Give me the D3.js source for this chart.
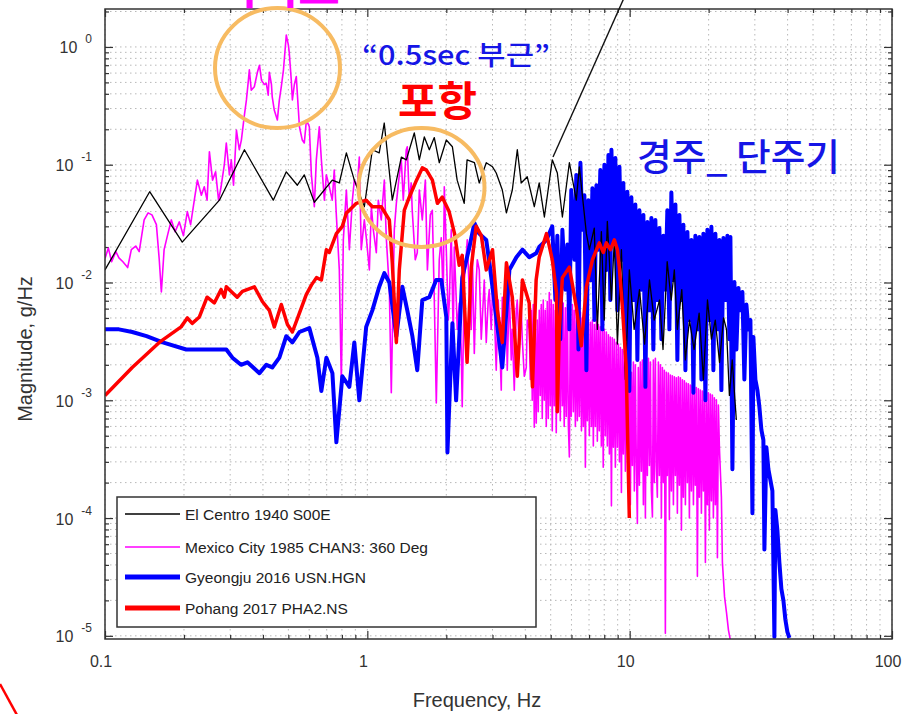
<!DOCTYPE html>
<html>
<head>
<meta charset="utf-8">
<script src="https://cdn.jsdelivr.net/npm/d3@7"></script>
<style>
  body { margin: 0; background: #fff; }
  svg { display: block; }
  text { font-family: "Liberation Sans", Arial, sans-serif; }
  .kr { font-family: "Noto Sans CJK KR", "Noto Sans", sans-serif; }
</style>
</head>
<body>
<div id="chart"></div>
<script>
// [frequency (Hz), magnitude (g/Hz)]
let elCentro = [
  [0.1,0.0128],[0.148,0.059],[0.197,0.022],[0.273,0.05],[0.34,0.134],[0.438,0.05],[0.491,0.087],[0.541,0.067],
  [0.575,0.082],[0.628,0.048],[0.735,0.074],[0.782,0.07],[0.832,0.126],[0.892,0.074],[0.974,0.044],[1.045,0.134],
  [1.11,0.126],[1.16,0.226],[1.245,0.05],[1.348,0.116],[1.408,0.11],[1.51,0.186],[1.578,0.11],[1.649,0.172],
  [1.723,0.134],[1.8,0.17],[1.88,0.104],[2.0,0.162],[2.11,0.142],[2.2,0.074],[2.34,0.047],[2.4,0.11],
  [2.56,0.104],[2.67,0.07],[2.84,0.104],[3.0,0.096],[3.1,0.085],[3.27,0.061],[3.39,0.039],[3.57,0.061],
  [3.73,0.134],[3.86,0.07],[4.07,0.079],[4.33,0.044],[4.52,0.07],[4.73,0.036],[5.07,0.11],[5.3,0.085],
  [5.54,0.036],[5.89,0.104],[6.26,0.05],[6.43,0.096],[6.84,0.026],[7.02,0.019],[7.33,0.029],[7.53,0.004],
  [7.8,0.027],[8.0,0.0048],[8.22,0.033],[8.52,0.0071],[8.74,0.023],[8.98,0.003],[9.3,0.019],[9.63,0.0015],
  [9.97,0.0128],[10.4,0.004],[10.9,0.0087],[11.4,0.003],[11.9,0.0105],[12.4,0.0048],[13.0,0.0071],[13.4,0.0027],
  [13.9,0.015],[14.4,0.0071],[14.8,0.0128],[15.2,0.004],[15.8,0.0087],[16.3,0.0022],[16.9,0.0048],[17.6,0.0027],
  [18.4,0.0055],[19.1,0.0015],[19.8,0.0071],[20.5,0.0033],[21.2,0.0048],[22.0,0.0021],[22.8,0.005],[23.4,0.004],
  [24.0,0.0011],[24.6,0.0022],[25.5,0.00068]
]

let mexicoCity = [
  [0.1,0.016],[0.103,0.0196],[0.106,0.015],[0.11,0.0183],[0.113,0.0162],[0.117,0.015],[0.122,0.0134],[0.126,0.019],
  [0.131,0.0204],[0.135,0.0183],[0.141,0.034],[0.146,0.039],[0.151,0.0375],[0.157,0.031],[0.161,0.0156],[0.164,0.0083],
  [0.168,0.019],[0.173,0.025],[0.179,0.034],[0.185,0.027],[0.192,0.0327],[0.199,0.025],[0.206,0.04],[0.212,0.031],
  [0.219,0.05],[0.225,0.074],[0.233,0.055],[0.239,0.065],[0.245,0.05],[0.25,0.129],[0.257,0.074],[0.264,0.087],
  [0.271,0.05],[0.277,0.065],[0.285,0.1],[0.29,0.153],[0.298,0.082],[0.303,0.11],[0.309,0.067],[0.317,0.197],
  [0.325,0.134],[0.331,0.162],[0.34,0.265],[0.346,0.355],[0.352,0.52],[0.355,0.64],[0.361,0.43],[0.371,0.46],
  [0.381,0.61],[0.388,0.7],[0.395,0.52],[0.405,0.48],[0.412,0.49],[0.419,0.39],[0.423,0.61],[0.431,0.48],
  [0.434,0.377],[0.442,0.29],[0.454,0.24],[0.462,0.355],[0.47,0.46],[0.479,0.64],[0.491,1.26],[0.5,1.04],
  [0.504,0.89],[0.513,0.52],[0.518,0.355],[0.527,0.48],[0.536,0.56],[0.546,0.29],[0.551,0.21],[0.565,0.162],
  [0.575,0.153],[0.586,0.24],[0.601,0.21],[0.612,0.082],[0.628,0.044],[0.639,0.11],[0.656,0.21],[0.668,0.11],
  [0.686,0.05],[0.698,0.082],[0.716,0.065],[0.735,0.05],[0.748,0.09],[0.761,0.039],[0.782,0.0128],[0.796,0.0014],
  [0.81,0.023],[0.832,0.061],[0.854,0.019],[0.877,0.05],[0.892,0.074],[0.916,0.065],[0.932,0.116],[0.948,0.019],
  [0.974,0.034],[0.991,0.024],[1.018,0.0128],[1.036,0.044],[1.054,0.028],[1.082,0.0179],[1.101,0.05],[1.13,0.034],
  [1.161,0.074],[1.181,0.024],[1.213,0.0087],[1.234,0.00116],[1.267,0.028],[1.29,0.047],[1.324,0.082],[1.347,0.11],
  [1.371,0.05],[1.383,0.07],[1.407,0.134],[1.42,0.142],[1.445,0.05],[1.47,0.07],[1.483,0.041],[1.523,0.0156],
  [1.55,0.0179],[1.578,0.061],[1.62,0.034],[1.664,0.074],[1.694,0.0128],[1.738,0.0375],[1.769,0.041],[1.8,0.0071],
  [1.832,0.00095],[1.88,0.0156],[1.913,0.024],[1.947,0.0071],[1.965,0.065],[2.0,0.019],[2.035,0.0048],[2.053,0.0067],
  [2.089,0.028],[2.126,0.0033],[2.145,0.02],[2.183,0.0071],[2.202,0.004],[2.241,0.0067],[2.28,0.0027],[2.3,0.00088],
  [2.342,0.0105],[2.362,0.0128],[2.404,0.023],[2.447,0.0082],[2.49,0.004],[2.512,0.019],[2.557,0.0025],[2.602,0.0105],
  [2.625,0.0156],[2.671,0.0128],[2.718,0.0033],[2.742,0.0048],[2.791,0.0105],[2.84,0.0031],[2.89,0.0071],[2.916,0.0087],
  [2.967,0.004],[3.019,0.0128],[3.073,0.0033],[3.1,0.0018],[3.155,0.0071],[3.24,0.00122],[3.269,0.0075],[3.327,0.0033],
  [3.386,0.0058],[3.415,0.0018],[3.476,0.0087],[3.537,0.0022],[3.568,0.004],[3.632,0.00122],[3.696,0.0058],[3.728,0.0071],
  [3.795,0.0027],[3.862,0.0058],[3.896,0.0033],[3.965,0.0016],[4.035,0.0019],[4.071,0.0048],
  [4.143,0.004],[4.18,0.0015],[4.216,0.0058],[4.253,0.001],[4.29,0.0065],[4.329,0.00059],[4.367,0.004],[4.405,0.00064],
  [4.444,0.0048],[4.483,0.0008],[4.523,0.0058],[4.563,0.0011],[4.603,0.0065],[4.643,0.0007],[4.684,0.0071],[4.726,0.001],
  [4.767,0.0058],[4.809,0.0006],[4.852,0.0069],[4.895,0.0007],[4.938,0.0082],[4.981,0.0009],[5.025,0.0071],[5.07,0.00055],
  [5.115,0.0065],[5.16,0.0009],[5.21,0.0058],[5.25,0.00053],[5.3,0.0069],[5.345,0.0008],[5.39,0.0071],[5.44,0.00067],
  [5.49,0.0065],[5.54,0.0009],[5.58,0.0067],[5.63,0.0006],[5.69,0.0061],[5.73,0.00073],[5.79,0.0065],[5.84,0.0006],
  [5.89,0.00033],[5.94,0.0058],[5.99,0.00073],[6.05,0.0065],[6.1,0.0008],[6.15,0.0058],[6.21,0.0006],[6.26,0.0056],
  [6.32,0.00067],[6.38,0.0053],[6.43,0.00073],[6.49,0.0056],[6.55,0.00055],[6.6,0.005],[6.66,0.0006],[6.72,0.0048],
  [6.78,0.00027],[6.84,0.005],[6.9,0.00067],[6.96,0.0048],[7.02,0.0005],[7.09,0.0046],[7.15,0.0006],[7.21,0.0048],
  [7.27,0.00041],[7.34,0.0044],[7.4,0.0006],[7.47,0.0048],[7.53,0.00045],[7.6,0.0044],[7.66,0.00055],[7.73,0.0042],
  [7.8,0.00041],[7.87,0.004],[7.93,0.00027],[8.0,0.004],[8.08,0.0005],[8.15,0.0038],[8.22,0.00041],[8.3,0.0036],
  [8.37,0.00035],[8.44,0.00345],[8.52,0.000127],[8.59,0.0034],[8.67,0.0004],[8.74,0.0033],[8.82,0.00027],[8.9,0.0031],
  [8.98,0.0004],[9.06,0.003],[9.14,0.0003],[9.22,0.0028],[9.3,0.000165],[9.38,0.0027],[9.46,0.00035],[9.54,0.0026],
  [9.63,0.00025],[9.71,0.0024],
  [9.8,0.0022],[9.88,0.00023],[9.97,0.002],[10.06,0.00013],[10.15,0.00173],[10.24,0.00028],[10.33,0.00211],[10.42,0.00017],
  [10.51,0.002],[10.6,0.0003],[10.7,0.00009],[10.79,0.0019],[10.89,0.00019],[10.98,0.00211],[11.08,0.00025],[11.18,0.0022],
  [11.28,0.00013],[11.38,0.00227],[11.48,0.0001],[11.58,0.0023],[11.68,0.00023],[11.79,0.00227],[11.89,0.00028],[12.0,0.00211],
  [12.1,0.00017],[12.21,0.000102],[12.31,0.0022],[12.42,0.0002],[12.53,0.00227],[12.64,0.00028],[12.75,0.00015],[12.87,0.00211],
  [12.98,0.00023],[13.1,0.002],[13.21,0.0001],[13.33,0.0019],[13.44,0.0002],[13.56,0.0018],[13.68,0.0000105],[13.8,0.00173],
  [13.92,0.00023],[14.05,0.0017],[14.17,0.000097],[14.3,0.00164],[14.42,0.00017],[14.55,0.00161],[14.68,0.00013],[14.81,0.00158],
  [14.94,0.00023],[15.07,0.00155],[15.2,0.00011],[15.34,0.00158],[15.47,0.00019],[15.61,0.00155],[15.75,0.000079],[15.89,0.00149],
  [16.02,0.00015],[16.17,0.00146],[16.31,0.00013],[16.45,0.0014],[16.6,0.0002],[16.74,0.00138],[16.89,0.0001],[17.04,0.00135],
  [17.19,0.00017],[17.34,0.00133],[17.5,0.00013],[17.65,0.0013],[17.8,0.00019],[17.96,0.00128],[18.12,0.000032],[18.28,0.00125],
  [18.44,0.00015],[18.6,0.00122],[18.77,0.00011],[18.93,0.0012],[19.1,0.00017],[19.27,0.00118],[19.44,0.000042],[19.61,0.00118],
  [19.78,0.00013],[19.96,0.00116],[20.13,0.000079],[20.31,0.00113],[20.49,0.00014],[20.67,0.00111],[20.85,0.0001],[21.03,0.00105],
  [21.22,0.00013],[21.41,0.00101],[21.6,0.000046],[21.79,0.00091],[21.98,0.0004],[22.37,0.00015],[22.57,0.000042],[23.0,0.0000214],
  [23.4,0.0000157],[23.8,0.0000112],[24.2,0.0000092]
]

let gyeongju = [
  [0.1,0.004],[0.113,0.004],[0.127,0.0038],[0.144,0.0035],[0.166,0.0031],[0.204,0.0027],[0.229,0.0027],[0.29,0.0027],
  [0.306,0.0023],[0.33,0.002],[0.349,0.0021],[0.388,0.0017],[0.412,0.002],[0.434,0.0019],[0.462,0.0023],[0.491,0.0035],
  [0.518,0.0031],[0.551,0.0038],[0.601,0.0041],[0.645,0.0023],[0.668,0.0012],[0.698,0.0023],[0.736,0.0017],[0.762,0.00044],
  [0.803,0.0016],[0.854,0.0013],[0.892,0.0031],[0.932,0.001],[0.99,0.0042],[1.045,0.0058],[1.11,0.0092],[1.161,0.012],
  [1.213,0.01],[1.29,0.0035],[1.36,0.0092],[1.42,0.0058],[1.485,0.0035],[1.55,0.0018],[1.62,0.0071],[1.723,0.0075],
  [1.83,0.0105],[1.915,0.0105],[2.0,0.0051],[2.02,0.00036],[2.11,0.0045],[2.18,0.001],[2.3,0.011],[2.45,0.02],
  [2.56,0.032],[2.67,0.026],[2.84,0.023],[2.92,0.0147],[3.1,0.0051],[3.27,0.0019],[3.48,0.0128],[3.7,0.0164],
  [3.9,0.019],[4.14,0.0164],[4.4,0.0177],[4.52,0.02],[4.82,0.023],
  [5.07,0.03],[5.21,0.0071],[5.3,0.025],[5.44,0.0033],[5.54,0.028],[5.69,0.0087],[5.79,0.021],[5.89,0.004],
  [5.99,0.061],[6.16,0.0156],[6.26,0.082],[6.38,0.0027],[6.49,0.104],[6.6,0.028],[6.72,0.055],[6.84,0.0018],
  [6.96,0.05],[7.09,0.0105],[7.21,0.063],[7.34,0.0048],[7.47,0.067],[7.6,0.019],[7.73,0.09],[7.87,0.004],
  [8.01,0.1],[8.15,0.0128],[8.3,0.121],[8.44,0.0071],[8.52,0.134],[8.67,0.023],[8.82,0.114],[8.98,0.0058],
  [9.14,0.096],[9.3,0.0156],[9.46,0.07],[9.63,0.0033],[9.8,0.059],[9.97,0.0012],[10.15,0.053],[10.33,0.0071],
  [10.51,0.046],[10.7,0.0022],[10.89,0.041],[11.08,0.0087],[11.28,0.0375],[11.48,0.0013],[11.68,0.0327],[11.89,0.0058],
  [12.1,0.0353],[12.31,0.0027],[12.53,0.034],[12.75,0.0071],[12.98,0.029],[13.21,0.0033],[13.44,0.025],[13.68,0.0087],
  [13.92,0.041],[14.17,0.004],[14.42,0.058],[14.68,0.0105],[14.94,0.046],[15.2,0.0022],[15.47,0.0375],[15.75,0.0071],
  [16.02,0.031],[16.31,0.0018],[16.6,0.0269],[16.89,0.0048],[17.19,0.023],[17.5,0.00116],[17.8,0.0249],[18.12,0.004],
  [18.44,0.0244],[18.77,0.0015],[19.1,0.026],[19.44,0.001],[19.78,0.028],[20.13,0.0048],[20.49,0.0297],[20.85,0.0018],
  [21.22,0.026],[21.6,0.004],[21.98,0.023],[22.37,0.00122],[22.77,0.0239],[23.17,0.0071],[23.58,0.0249],[24.0,0.0033],
  [24.21,0.0244],[24.64,0.00026],[25.07,0.0101],[25.52,0.0027],[25.97,0.009],[26.43,0.0058],[26.9,0.0083],[27.37,0.0015],
  [27.86,0.0065],[28.35,0.004],[28.86,0.0048],[29.37,0.00011],[29.62,0.00345],[30.15,0.0015],[30.68,0.00122],[31.22,0.00088],
  [31.78,0.00056],[32.34,0.00046],[32.63,0.000054],[33.2,0.0004],[33.79,0.00026],[34.39,0.00021],[35.0,0.00017],[35.62,0.0000098],
  [35.93,0.000117],[36.57,0.000079],[37.21,0.000042],[37.87,0.000025],[38.55,0.00002],[39.23,0.0000137],[39.92,0.0000108],[40.63,0.0000096]
]

let pohang = [
  [0.1,0.0011],[0.127,0.0019],[0.161,0.0031],[0.195,0.0042],[0.206,0.005],[0.215,0.0045],[0.229,0.0051],[0.245,0.0075],
  [0.261,0.0067],[0.277,0.0087],[0.285,0.0075],[0.29,0.0092],[0.319,0.0075],[0.334,0.0084],[0.371,0.0092],[0.398,0.0069],
  [0.423,0.0058],[0.442,0.0042],[0.47,0.0065],[0.496,0.0044],[0.518,0.0038],[0.551,0.0055],[0.585,0.0079],[0.612,0.0095],
  [0.64,0.011],[0.668,0.0105],[0.698,0.019],[0.716,0.018],[0.762,0.026],[0.803,0.03],[0.832,0.039],[0.854,0.041],
  [0.908,0.047],[0.99,0.05],[1.045,0.044],[1.13,0.044],[1.213,0.034],[1.245,0.0147],[1.29,0.0031],[1.324,0.0128],
  [1.383,0.041],[1.445,0.053],[1.54,0.074],[1.62,0.094],[1.68,0.09],[1.77,0.074],[1.85,0.047],[1.93,0.053],
  [2.05,0.04],[2.15,0.026],[2.24,0.014],[2.3,0.017],[2.4,0.0021],[2.49,0.0135],[2.6,0.03],[2.72,0.025],
  [2.84,0.0128],[3.0,0.019],[3.13,0.0058],[3.27,0.0031],[3.39,0.0147],[3.57,0.0075],[3.73,0.0016],[3.9,0.0105],
  [4.14,0.0067],[4.26,0.0013],[4.4,0.0105],[4.52,0.0164],[4.82,0.026],[5.07,0.0156],[5.26,0.0082],[5.3,0.0008],
  [5.39,0.0038],[5.54,0.011],[5.89,0.0135],[6.26,0.0062],[6.54,0.0029],[6.84,0.0092],[7.21,0.0156],[7.66,0.0217],
  [7.93,0.018],[8.15,0.0217],[8.45,0.019],[8.74,0.023],[8.98,0.019],[9.13,0.0135],[9.4,0.0058],[9.7,0.0019],
  [9.97,0.0001]
]

let seriesNames = ["El Centro 1940 S00E", "Mexico City 1985 CHAN3: 360 Deg", "Gyeongju 2016 USN.HGN", "Pohang 2017 PHA2.NS"]
let xTickValues = [0.1, 1, 10, 100]
let xTickLabels = ["0.1", "1", "10", "100"]
let yTickValues = [1, 0.1, 0.01, 0.001, 1e-4, 1e-5]
let yTickExponents = ["0", "-1", "-2", "-3", "-4", "-5"]

let width = 913
let height = 714
let plot = { left: 105, right: 892, top: 9, bottom: 639 }

let x = d3.scaleLog()
    .domain([0.1, 100])
    .range([plot.left, plot.right])

let y = d3.scaleLog()
    .domain([9.4e-6, 2.1])
    .range([plot.bottom, plot.top])

let svg = d3.select('#chart')
    .append('svg')
    .attr('width', width)
    .attr('height', height)

svg.append('defs').append('clipPath')
    .attr('id', 'plotClip')
    .append('rect')
    .attr('x', plot.left)
    .attr('y', plot.top)
    .attr('width', plot.right - plot.left)
    .attr('height', plot.bottom - plot.top)

// dotted grid at every log tick
let xGrid = x.ticks()
let yGrid = y.ticks()

let grid = svg.append('g')
    .attr('stroke', '#b8b8b8')
    .attr('stroke-width', 1)
    .attr('stroke-dasharray', '1.5,3.5')

grid.selectAll('.vgrid').data(xGrid).join('line')
    .attr('class', 'vgrid')
    .attr('x1', d => x(d)).attr('x2', d => x(d))
    .attr('y1', plot.top).attr('y2', plot.bottom)

grid.selectAll('.hgrid').data(yGrid).join('line')
    .attr('class', 'hgrid')
    .attr('x1', plot.left).attr('x2', plot.right)
    .attr('y1', d => y(d)).attr('y2', d => y(d))

// inward ticks on all four sides, long at decades
let isMajor = d => Math.abs(Math.log10(d) - Math.round(Math.log10(d))) < 1e-6
let xMinor = xGrid.filter(d => !isMajor(d))
let yMinor = yGrid.filter(d => !isMajor(d))

let drawTicks = (axis, translate, values, size) => {
    svg.append('g')
        .attr('class', 'axis')
        .attr('transform', translate)
        .call(axis.tickValues(values).tickSize(size).tickFormat(''))
        .call(g => g.select('.domain').remove())
        .selectAll('line').attr('stroke', '#333').attr('stroke-width', 1.2)
}

drawTicks(d3.axisBottom(x), `translate(0,${plot.bottom})`, xMinor, -4)
drawTicks(d3.axisBottom(x), `translate(0,${plot.bottom})`, xTickValues, -8)
drawTicks(d3.axisTop(x), `translate(0,${plot.top})`, xMinor, -4)
drawTicks(d3.axisTop(x), `translate(0,${plot.top})`, xTickValues, -8)
drawTicks(d3.axisLeft(y), `translate(${plot.left},0)`, yMinor, -4)
drawTicks(d3.axisLeft(y), `translate(${plot.left},0)`, yTickValues, -8)
drawTicks(d3.axisRight(y), `translate(${plot.right},0)`, yMinor, -4)
drawTicks(d3.axisRight(y), `translate(${plot.right},0)`, yTickValues, -8)

// series
let line = d3.line()
    .x(d => x(d[0]))
    .y(d => y(d[1]))

let lines = svg.append('g').attr('clip-path', 'url(#plotClip)')
    .attr('fill', 'none')
    .attr('stroke-linejoin', 'round')

lines.append('path').datum(mexicoCity).attr('d', line).attr('stroke', '#ff00ff').attr('stroke-width', 1.6)
lines.append('path').datum(gyeongju).attr('d', line).attr('stroke', '#0000ff').attr('stroke-width', 4)
lines.append('path').datum(elCentro).attr('d', line).attr('stroke', '#000').attr('stroke-width', 1.3)
lines.append('path').datum(pohang).attr('d', line).attr('stroke', '#ff0000').attr('stroke-width', 3.5)

// frame
svg.append('rect')
    .attr('x', plot.left)
    .attr('y', plot.top)
    .attr('width', plot.right - plot.left)
    .attr('height', plot.bottom - plot.top)
    .attr('fill', 'none')
    .attr('stroke', '#333')
    .attr('stroke-width', 1.5)

// tick labels
svg.selectAll('.xlabel').data(xTickValues).join('text')
    .attr('class', 'xlabel')
    .attr('x', d => x(d) - 4)
    .attr('y', 667)
    .attr('text-anchor', 'middle')
    .attr('font-size', 16)
    .attr('fill', '#333')
    .text((d, i) => xTickLabels[i])

let ylab = svg.selectAll('.ylabel').data(yTickValues).join('text')
    .attr('class', 'ylabel')
    .attr('x', 92)
    .attr('y', d => y(d) + 6.5)
    .attr('text-anchor', 'end')
    .attr('font-size', 16)
    .attr('fill', '#333')
    .text('10')

ylab.append('tspan')
    .attr('dx', 8)
    .attr('dy', -10)
    .attr('font-size', 12)
    .text((d, i) => yTickExponents[i])

// axis titles
svg.append('text')
    .attr('x', 477)
    .attr('y', 707)
    .attr('text-anchor', 'middle')
    .attr('font-size', 20)
    .attr('fill', '#333')
    .text('Frequency, Hz')

svg.append('text')
    .attr('transform', 'translate(32,349) rotate(-90)')
    .attr('text-anchor', 'middle')
    .attr('font-size', 20)
    .attr('fill', '#333')
    .text('Magnitude, g/Hz')

// legend
let legendStyle = [
    { color: '#000', width: 1.3 },
    { color: '#ff00ff', width: 1.3 },
    { color: '#0000ff', width: 5 },
    { color: '#ff0000', width: 5 }
]
let legendRows = [514, 547, 577, 608]

svg.append('rect')
    .attr('x', 117).attr('y', 497)
    .attr('width', 419).attr('height', 130)
    .attr('fill', '#fff')
    .attr('stroke', '#333')
    .attr('stroke-width', 1.5)

let legend = svg.selectAll('.legend')
    .data(seriesNames)
    .enter().append('g')
    .attr('class', 'legend')
    .attr('transform', (d, i) => `translate(0,${legendRows[i]})`)

legend.append('line')
    .attr('x1', 125).attr('x2', 180)
    .attr('stroke', (d, i) => legendStyle[i].color)
    .attr('stroke-width', (d, i) => legendStyle[i].width)

legend.append('text')
    .attr('x', 185)
    .attr('y', 5.5)
    .attr('font-size', 15.5)
    .attr('fill', '#222')
    .text(d => d)

// annotations drawn over the chart
let circles = [
    { cx: 277.5, cy: 68, rx: 62.5, ry: 60 },
    { cx: 421.5, cy: 187.5, rx: 63, ry: 59.5 }
]
svg.selectAll('.ring').data(circles).join('ellipse')
    .attr('class', 'ring')
    .attr('cx', d => d.cx).attr('cy', d => d.cy)
    .attr('rx', d => d.rx).attr('ry', d => d.ry)
    .attr('fill', 'none')
    .attr('stroke', '#f7bb62')
    .attr('stroke-width', 4)

svg.append('line')
    .attr('x1', 553).attr('y1', 157)
    .attr('x2', 624).attr('y2', -2)
    .attr('stroke', '#111')
    .attr('stroke-width', 1.4)

svg.append('line')
    .attr('x1', 0).attr('y1', 684)
    .attr('x2', 17).attr('y2', 715)
    .attr('stroke', '#ff0000')
    .attr('stroke-width', 2.5)

svg.append('text')
    .attr('class', 'kr')
    .attr('x', 215).attr('y', 4)
    .attr('font-size', 42)
    .attr('font-weight', 700)
    .attr('fill', '#ff00ff')
    .attr('textLength', 125)
    .attr('lengthAdjust', 'spacingAndGlyphs')
    .text('멕시코')

svg.append('text')
    .attr('class', 'kr')
    .attr('x', 362).attr('y', 65)
    .attr('font-size', 27)
    .attr('font-weight', 500)
    .attr('fill', '#1515e6')
    .attr('textLength', 188)
    .attr('lengthAdjust', 'spacingAndGlyphs')
    .text('“0.5sec 부근”')

svg.append('text')
    .attr('class', 'kr')
    .attr('x', 398).attr('y', 116)
    .attr('font-size', 41)
    .attr('font-weight', 700)
    .attr('fill', '#ff0000')
    .attr('textLength', 79)
    .attr('lengthAdjust', 'spacingAndGlyphs')
    .text('포항')

svg.append('text')
    .attr('class', 'kr')
    .attr('x', 637).attr('y', 171)
    .attr('font-size', 37)
    .attr('font-weight', 500)
    .attr('fill', '#1515e6')
    .attr('textLength', 203)
    .attr('lengthAdjust', 'spacingAndGlyphs')
    .text('경주_ 단주기')
</script>
</body>
</html>
